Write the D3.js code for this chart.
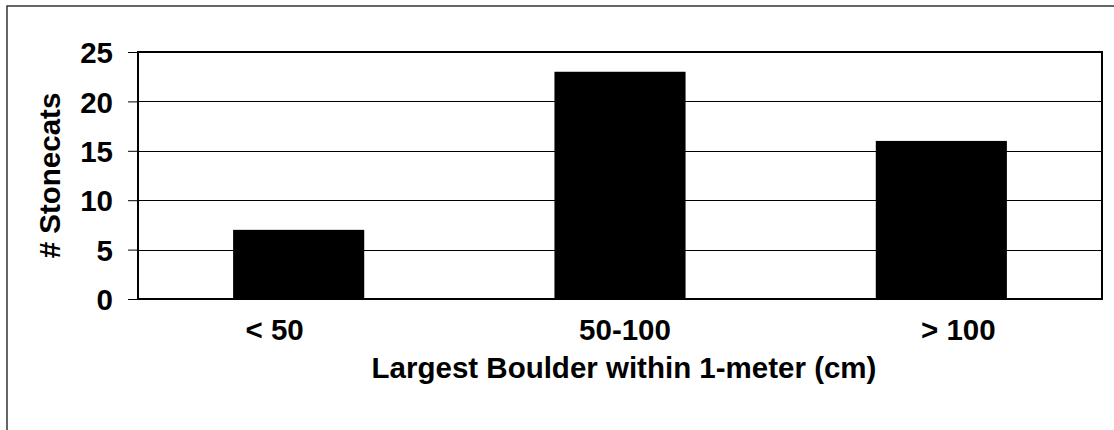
<!DOCTYPE html>
<html>
<head>
<meta charset="utf-8">
<script src="https://cdn.jsdelivr.net/npm/d3@7"></script>
<style>
  html, body { margin: 0; padding: 0; background: #fff; overflow: hidden; }
  svg { display: block; }
  text { font-family: "Liberation Sans", Arial, sans-serif; font-weight: bold; fill: #000; }
</style>
</head>
<body>
<svg id="chart" width="1114" height="430"></svg>
<script>
const categories = ["< 50", "50-100", "> 100"];
const counts = [7, 23, 16];
const yTicks = [0, 5, 10, 15, 20, 25];
const xTitle = "Largest Boulder within 1-meter (cm)";
const yTitle = "# Stonecats";

const svg = d3.select("#chart");
const pLeft = 138, pRight = 1102, pTop = 52, pBottom = 299;
const fs = "29.5px";
// horizontal nudges of the category labels, as seen in the original
const labelNudge = [-24, 5, 17];

// outer frame
svg.append("rect")
  .attr("x", 7).attr("y", 6).attr("width", 1200).attr("height", 600)
  .attr("fill", "#fff").attr("stroke", "#333").attr("stroke-width", 1.5);

const x = d3.scaleBand().domain(categories).range([pLeft, pRight])
  .paddingInner(0.592).paddingOuter(0.296);
const y = d3.scaleLinear().domain([0, 25]).range([pBottom, pTop]);

// gridlines
svg.append("g").selectAll("line").data(yTicks.filter(t => t > 0 && t < 25)).join("line")
  .attr("x1", pLeft).attr("x2", pRight)
  .attr("y1", d => Math.round(y(d)) + 0.5).attr("y2", d => Math.round(y(d)) + 0.5)
  .attr("stroke", "#000").attr("stroke-width", 1);

// bars
svg.append("g").selectAll("rect").data(counts).join("rect")
  .attr("x", (d, i) => x(categories[i]))
  .attr("y", d => y(d))
  .attr("width", x.bandwidth())
  .attr("height", d => y(0) - y(d))
  .attr("fill", "#000");

// plot border
svg.append("rect")
  .attr("x", pLeft).attr("y", pTop).attr("width", pRight - pLeft).attr("height", pBottom - pTop)
  .attr("fill", "none").attr("stroke", "#000").attr("stroke-width", 2);

// y axis
const yAxis = d3.axisLeft(y).tickValues(yTicks).tickSize(10).tickPadding(15);
const gy = svg.append("g").attr("transform", `translate(${pLeft},0)`).call(yAxis);
gy.select(".domain").remove();
gy.selectAll(".tick line").attr("stroke", "#000").attr("stroke-width", 1);
gy.selectAll(".tick text").style("font-size", fs).style("font-family", "Liberation Sans, Arial, sans-serif").style("font-weight", "bold").attr("dy", "0.36em");

// x labels
const xAxis = d3.axisBottom(x).tickSize(0).tickPadding(20);
const gx = svg.append("g").attr("transform", `translate(0,${pBottom})`).call(xAxis);
gx.select(".domain").remove();
gx.selectAll(".tick text").style("font-size", fs).style("font-family", "Liberation Sans, Arial, sans-serif").style("font-weight", "bold").attr("dy", "0.71em")
  .attr("dx", (d, i) => labelNudge[i]);

// axis titles
svg.append("text").attr("x", (pLeft + pRight) / 2 + 4).attr("y", 378)
  .attr("text-anchor", "middle").style("font-size", fs).text(xTitle);
svg.append("text").attr("transform", `translate(60,${(pTop + pBottom) / 2}) rotate(-90)`)
  .attr("text-anchor", "middle").style("font-size", fs).text(yTitle);
</script>
</body>
</html>
